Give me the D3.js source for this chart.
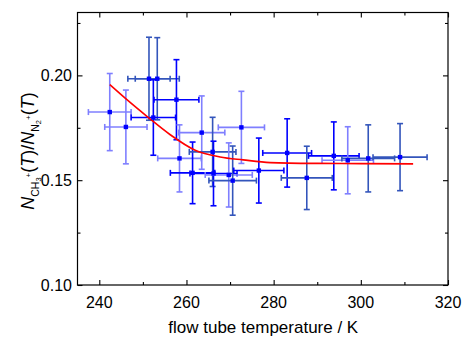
<!DOCTYPE html>
<html>
<head>
<meta charset="utf-8">
<script src="https://cdn.jsdelivr.net/npm/d3@7/dist/d3.min.js"></script>
<style>
  body { margin: 0; background: #fff; }
  svg { display: block; font-family: "Liberation Sans", Arial, sans-serif; }
</style>
</head>
<body>
<svg id="chart" width="463" height="337"></svg>
<script>
// measured points (flow tube temperature, ion ratio) with error bars
const temps   = [242.4, 246.1, 251.4, 253.3, 252.4, 257.7, 258.4, 261.4, 263.5, 266.0, 266.2, 269.7, 270.6, 272.6, 276.6, 283.1, 287.6, 293.8, 297.0, 301.7, 309.0];
const ratios  = [0.1825, 0.1754, 0.1984, 0.1984, 0.1799, 0.1884, 0.1604, 0.1535, 0.1727, 0.1635, 0.1532, 0.1525, 0.1498, 0.1752, 0.1546, 0.1630, 0.1511, 0.1616, 0.1595, 0.1604, 0.1610];
const tempErr = [4.9, 4.85, 4.85, 5.05, 5.1, 5.15, 5.0, 5.1, 5.3, 5.35, 5.4, 5.4, 5.45, 5.3, 5.75, 5.6, 5.85, 5.8, 5.9, 6.05, 6.2];
const ratioErr = [0.0184, 0.0176, 0.0198, 0.0196, 0.018, 0.0191, 0.016, 0.0147, 0.0175, 0.0165, 0.0154, 0.0153, 0.0165, 0.0172, 0.0155, 0.0163, 0.0151, 0.0162, 0.016, 0.016, 0.016];
const shade   = [1, 1, 2, 2, 0, 0, 1, 0, 1, 2, 0, 1, 2, 1, 0, 0, 2, 0, 1, 2, 2];

// fitted curve
const fitT = [242.4, 246.0, 251.2, 256.2, 262.0, 267.7, 273.0, 279.2, 290.0, 300.0, 312.0];
const fitV = [0.1956, 0.1890, 0.1800, 0.1718, 0.1643, 0.1611, 0.1597, 0.1584, 0.1580, 0.1579, 0.1578];

const xMajor = [240, 260, 280, 300, 320];
const xMinor = [250, 270, 290, 310];
const yMajor = [0.10, 0.15, 0.20];
const yMinor = [0.125, 0.175, 0.225];

const colors = ["#0000ff", "#7f7fff", "#3355bb"];

const svg = d3.select("#chart");
const mLeft = 77.5, mRight = 448, mTop = 12.5, mBottom = 285;

const x = d3.scaleLinear().domain([235, 320]).range([mLeft, mRight]);
const y = d3.scaleLinear().domain([0.10, 0.23]).range([mBottom, mTop]);

const pts = temps.map((t, i) => ({ t: t, v: ratios[i], dt: tempErr[i], dv: ratioErr[i], c: colors[shade[i]] }));

// error bars
const eb = svg.append("g");
pts.forEach(d => {
  const g = eb.append("g").attr("stroke", d.c).attr("stroke-width", 1.6).attr("fill", "none");
  const x0 = x(d.t), y0 = y(d.v);
  const xl = x(d.t - d.dt), xr = x(d.t + d.dt);
  const yt = y(d.v + d.dv), yb = y(d.v - d.dv);
  g.append("line").attr("x1", xl).attr("x2", xr).attr("y1", y0).attr("y2", y0);
  g.append("line").attr("x1", x0).attr("x2", x0).attr("y1", yt).attr("y2", yb);
  g.append("line").attr("x1", xl).attr("x2", xl).attr("y1", y0 - 3).attr("y2", y0 + 3);
  g.append("line").attr("x1", xr).attr("x2", xr).attr("y1", y0 - 3).attr("y2", y0 + 3);
  g.append("line").attr("x1", x0 - 3).attr("x2", x0 + 3).attr("y1", yt).attr("y2", yt);
  g.append("line").attr("x1", x0 - 3).attr("x2", x0 + 3).attr("y1", yb).attr("y2", yb);
});

// fit line
const line = d3.line().x(d => x(d[0])).y(d => y(d[1])).curve(d3.curveMonotoneX);
svg.append("path")
  .datum(fitT.map((t, i) => [t, fitV[i]]))
  .attr("d", line)
  .attr("fill", "none")
  .attr("stroke", "#ff0000")
  .attr("stroke-width", 1.6);

// markers
svg.append("g").selectAll("rect")
  .data(pts)
  .join("rect")
  .attr("x", d => x(d.t) - 2.2)
  .attr("y", d => y(d.v) - 2.2)
  .attr("width", 4.4)
  .attr("height", 4.4)
  .attr("fill", "#0000ff");

// frame
svg.append("rect")
  .attr("x", mLeft).attr("y", mTop)
  .attr("width", mRight - mLeft).attr("height", mBottom - mTop)
  .attr("fill", "none").attr("stroke", "#000").attr("stroke-width", 1.2);

// ticks (inward, on all four sides)
function ticks(axisGen, tr, size) {
  const g = svg.append("g").attr("transform", tr).call(axisGen.tickSize(size).tickFormat(""));
  g.select(".domain").remove();
  g.selectAll("line").attr("stroke", "#000").attr("stroke-width", 1.1);
  return g;
}
ticks(d3.axisTop(x).tickValues(xMajor), `translate(0,${mBottom})`, 5);
ticks(d3.axisTop(x).tickValues(xMinor), `translate(0,${mBottom})`, 3);
ticks(d3.axisBottom(x).tickValues(xMajor), `translate(0,${mTop})`, 5);
ticks(d3.axisBottom(x).tickValues(xMinor), `translate(0,${mTop})`, 3);
ticks(d3.axisRight(y).tickValues(yMajor), `translate(${mLeft},0)`, 5);
ticks(d3.axisRight(y).tickValues(yMinor), `translate(${mLeft},0)`, 3);
ticks(d3.axisLeft(y).tickValues(yMajor), `translate(${mRight},0)`, 5);
ticks(d3.axisLeft(y).tickValues(yMinor), `translate(${mRight},0)`, 3);

// tick labels
svg.append("g").selectAll("text")
  .data(xMajor)
  .join("text")
  .attr("x", d => x(d))
  .attr("y", 307.5)
  .attr("text-anchor", "middle")
  .attr("font-size", 16)
  .text(d => d);

svg.append("g").selectAll("text")
  .data(yMajor)
  .join("text")
  .attr("x", 72)
  .attr("y", d => y(d) + 6)
  .attr("text-anchor", "end")
  .attr("font-size", 16)
  .text(d3.format(".2f"));

// axis titles
svg.append("text")
  .attr("x", (mLeft + mRight) / 2 + 0.5)
  .attr("y", 332.5)
  .attr("text-anchor", "middle")
  .attr("font-size", 17)
  .text("flow tube temperature / K");

const yl = svg.append("text")
  .attr("transform", "translate(34,151) rotate(-90)")
  .attr("text-anchor", "middle")
  .attr("font-size", 18);
yl.append("tspan").attr("font-style", "italic").text("N");
yl.append("tspan").attr("font-size", 10.5).attr("dy", 4.5).text("CH");
yl.append("tspan").attr("font-size", 7.5).attr("dy", 2.5).text("3");
yl.append("tspan").attr("font-size", 8).attr("dy", -10.5).text("+");
yl.append("tspan").attr("dy", 3.5).text("(");
yl.append("tspan").attr("font-style", "italic").text("T");
yl.append("tspan").text(")/");
yl.append("tspan").attr("font-style", "italic").text("N");
yl.append("tspan").attr("font-size", 10.5).attr("dy", 4.5).text("N");
yl.append("tspan").attr("font-size", 7.5).attr("dy", 2.5).text("2");
yl.append("tspan").attr("font-size", 8).attr("dy", -10.5).text("+");
yl.append("tspan").attr("dy", 3.5).text("(");
yl.append("tspan").attr("font-style", "italic").text("T");
yl.append("tspan").text(")");
</script>
</body>
</html>
